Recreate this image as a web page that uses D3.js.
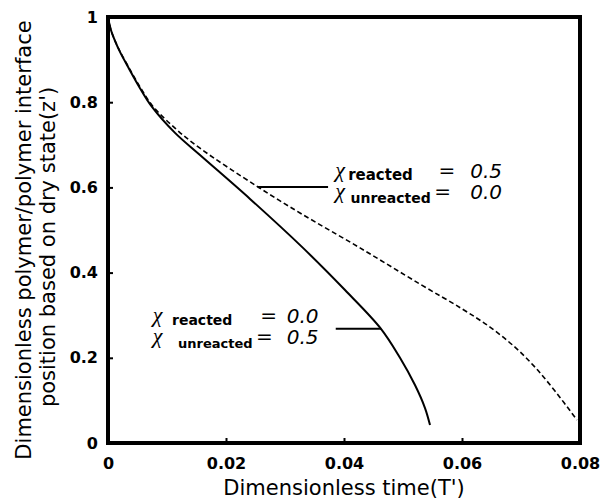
<!DOCTYPE html>
<html lang="en">
<head>
  <meta charset="utf-8">
  <title>Interface position vs time</title>
  <script src="https://cdn.jsdelivr.net/npm/d3@7"></script>
  <style>
    body { margin: 0; background: #fff; }
    .tick text { font: bold 16px "DejaVu Sans", sans-serif; fill: #000; }
    .axis path { display: none; }
    .axis line { stroke: #000; stroke-width: 2; }
    .title { font: 21px "DejaVu Sans", sans-serif; fill: #000; }
    .note { fill: #000; }
  </style>
</head>
<body>
<div id="chart"></div>
<script>
  // solid: chi_reacted = 0.0, chi_unreacted = 0.5
  var solidT = [0, 0.00017, 0.00051, 0.00119, 0.00203, 0.00339, 0.00542, 0.00746, 0.01136, 0.01559, 0.02407, 0.03305, 0.04017, 0.04627, 0.04949, 0.05203, 0.05373, 0.05458];
  var solidZ = [1, 0.988, 0.969, 0.944, 0.918, 0.883, 0.833, 0.789, 0.728, 0.676, 0.573, 0.458, 0.359, 0.268, 0.200, 0.136, 0.082, 0.042];
  // dashed: chi_reacted = 0.5, chi_unreacted = 0.0
  var dashT = [0, 0.00017, 0.00051, 0.00119, 0.00203, 0.00339, 0.00542, 0.00746, 0.01136, 0.01559, 0.02542, 0.03254, 0.04271, 0.05288, 0.06000, 0.06475, 0.06898, 0.07237, 0.07576, 0.07949];
  var dashZ = [1, 0.988, 0.969, 0.944, 0.919, 0.885, 0.836, 0.793, 0.739, 0.692, 0.601, 0.540, 0.458, 0.373, 0.315, 0.272, 0.225, 0.178, 0.122, 0.054];

  var xTicks = [0, 0.02, 0.04, 0.06, 0.08];
  var yTicks = [0, 0.2, 0.4, 0.6, 0.8, 1];

  var margin = { top: 17, right: 20, bottom: 61, left: 108 };
  var width = 600 - margin.left - margin.right,
    height = 504 - margin.top - margin.bottom;

  var x = d3.scaleLinear().domain([0, 0.08]).range([0, width]);
  var y = d3.scaleLinear().domain([0, 1]).range([height, 0]);

  var svg = d3.select('#chart').append('svg')
    .attr('width', 600)
    .attr('height', 504);

  var g = svg.append('g')
    .attr('transform', 'translate(' + margin.left + ',' + margin.top + ')');

  var fmt = function (d) { return String(d); };

  g.append('g')
    .attr('class', 'axis')
    .attr('transform', 'translate(0,' + height + ')')
    .call(d3.axisBottom(x).tickValues(xTicks).tickFormat(fmt).tickSizeInner(-5).tickSizeOuter(0).tickPadding(15));

  g.append('g')
    .attr('class', 'axis')
    .call(d3.axisLeft(y).tickValues(yTicks).tickFormat(fmt).tickSizeInner(-5).tickSizeOuter(0).tickPadding(10));

  // no tick marks on the frame corners
  g.selectAll('.tick').filter(function (d) { return d === 0 || d === 1 || d === 0.08; })
    .select('line').remove();

  g.append('rect')
    .attr('width', width)
    .attr('height', height)
    .attr('fill', 'none')
    .attr('stroke', '#000')
    .attr('stroke-width', 4);

  var line = d3.line()
    .x(function (d) { return x(d[0]); })
    .y(function (d) { return y(d[1]); })
    .curve(d3.curveCatmullRom.alpha(0.5));

  g.append('path')
    .datum(d3.zip(solidT, solidZ))
    .attr('d', line)
    .attr('fill', 'none')
    .attr('stroke', '#000')
    .attr('stroke-width', 2);

  g.append('path')
    .datum(d3.zip(dashT, dashZ))
    .attr('d', line)
    .attr('fill', 'none')
    .attr('stroke', '#000')
    .attr('stroke-width', 1.6)
    .attr('stroke-dasharray', '5,3');

  // leader lines
  var leaders = [
    [[0.0254, 0.601], [0.0373, 0.601]],
    [[0.0386, 0.268], [0.0463, 0.268]]
  ];
  leaders.forEach(function (l) {
    g.append('line')
      .attr('x1', x(l[0][0])).attr('y1', y(l[0][1]))
      .attr('x2', x(l[1][0])).attr('y2', y(l[1][1]))
      .attr('stroke', '#000').attr('stroke-width', 2);
  });

  // labels, placed in data coordinates
  var notes = [
    { t: 0.0385, z: 0.625, vals: ['0.5', '0.0'], sub: 15, wordT: [0.0407, 0.0411], eq: [0.0560, 0.0553], num: 0.0614 },
    { t: 0.0076, z: 0.285, vals: ['0.0', '0.5'], sub: 14, wordT: [0.01085, 0.01186], eq: [0.0258, 0.0251], num: 0.0303 }
  ];
  notes.forEach(function (n) {
    var words = ['reacted', 'unreacted'];
    words.forEach(function (word, i) {
      var by = y(n.z) + i * 21;
      g.append('text').attr('class', 'note')
        .attr('x', x(n.t)).attr('y', by)
        .style('font', 'italic 22px "Liberation Serif", serif')
        .text('\u03c7');
      g.append('text').attr('class', 'note')
        .attr('x', x(n.wordT[i])).attr('y', by + (i === 0 ? 3 : 5))
        .style('font', 'bold ' + (i === 0 ? n.sub : n.sub - 1) + 'px "DejaVu Sans", sans-serif')
        .text(word);
      g.append('text').attr('class', 'note')
        .attr('x', x(n.eq[i])).attr('y', by)
        .style('font', '20px "DejaVu Sans", sans-serif')
        .text('=');
      g.append('text').attr('class', 'note')
        .attr('x', x(n.num)).attr('y', by + 1)
        .style('font', 'italic 20px "DejaVu Sans", sans-serif')
        .text(n.vals[i]);
    });
  });

  svg.append('text')
    .attr('class', 'title')
    .attr('x', 344)
    .attr('y', 495)
    .attr('text-anchor', 'middle')
    .text("Dimensionless time(T')");

  var yTitle = ["Dimensionless polymer/polymer interface", "position based on dry state(z')"];
  yTitle.forEach(function (t, i) {
    svg.append('text')
      .attr('class', 'title')
      .attr('transform', 'translate(' + (31 + i * 24) + ',' + (240 + i * 7) + ') rotate(-90)')
      .attr('text-anchor', 'middle')
      .text(t);
  });
</script>
</body>
</html>
